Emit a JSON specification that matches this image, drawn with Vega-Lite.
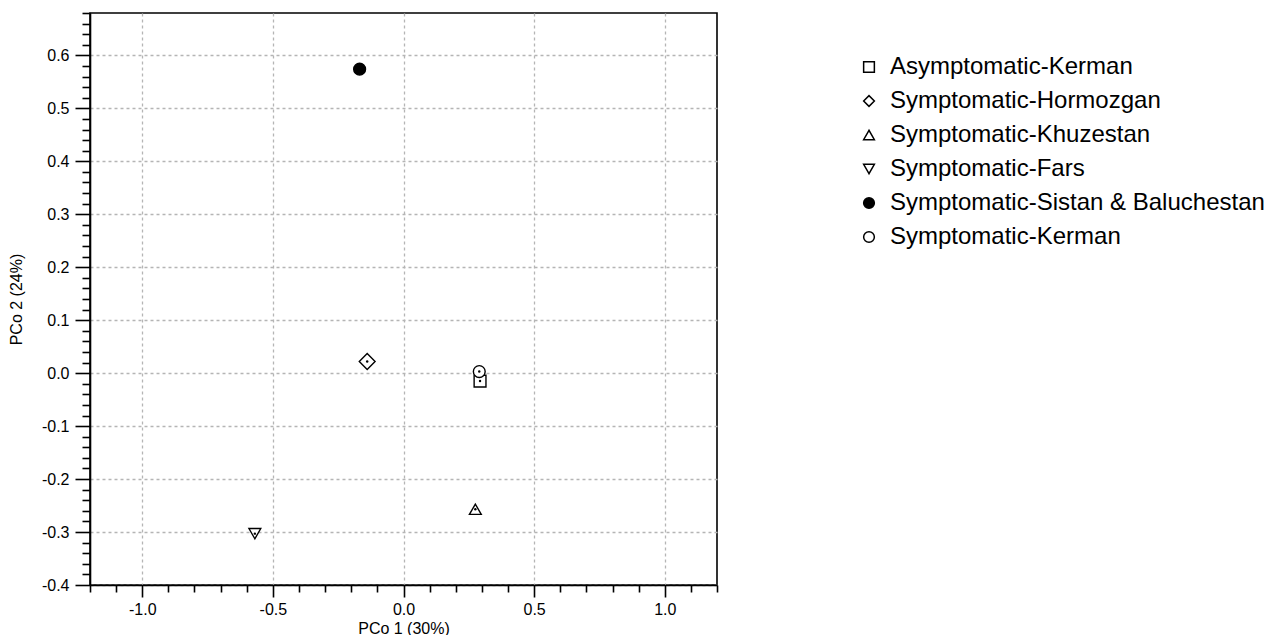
{
  "$schema": "https://vega.github.io/schema/vega-lite/v6.json",
  "autosize": {"type": "none"},
  "padding": {"left": 90, "top": 13, "right": 554, "bottom": 50},
  "width": 627,
  "height": 572,
  "background": "white",
  "config": {
    "font": "Liberation Sans",
    "view": {"stroke": "black", "strokeWidth": 1.6},
    "axis": {"labelFont": "Liberation Sans", "titleFont": "Liberation Sans", "labelColor": "black", "titleColor": "black", "tickColor": "black", "domainColor": "black", "domainWidth": 1.6, "tickWidth": 1.6, "titleFontWeight": "normal"}
  },
  "data": {
    "values": [
      {"group": "Asymptomatic-Kerman", "pco1": 0.293, "pco2": -0.015},
      {"group": "Symptomatic-Hormozgan", "pco1": -0.139, "pco2": 0.022},
      {"group": "Symptomatic-Khuzestan", "pco1": 0.275, "pco2": -0.257},
      {"group": "Symptomatic-Fars", "pco1": -0.569, "pco2": -0.303},
      {"group": "Symptomatic-Sistan & Baluchestan", "pco1": -0.168, "pco2": 0.574},
      {"group": "Symptomatic-Kerman", "pco1": 0.29, "pco2": 0.003}
    ]
  },
  "resolve": {"axis": {"x": "independent", "y": "independent"}},
  "layer": [
    {
      "mark": {"type": "point", "filled": false, "stroke": "black", "strokeWidth": 1.4, "opacity": 1},
      "encoding": {
        "x": {
          "field": "pco1", "type": "quantitative",
          "scale": {"domain": [-1.2, 1.2], "nice": false, "zero": false},
          "axis": {
            "orient": "bottom",
            "values": [-1, -0.5, 0, 0.5, 1],
            "format": ".1f",
            "labelExpr": "replace(datum.label, '\u2212', '-')",
            "tickSize": 12,
            "labelFontSize": 16,
            "labelPadding": 4,
            "grid": true,
            "gridColor": "#b5b5b5",
            "gridDash": [3, 3],
            "gridWidth": 1.3,
            "title": "PCo 1 (30%)",
            "titleFontSize": 16,
            "titlePadding": 3
          }
        },
        "y": {
          "field": "pco2", "type": "quantitative",
          "scale": {"domain": [-0.4, 0.68], "nice": false, "zero": false},
          "axis": {
            "orient": "left",
            "values": [-0.4, -0.3, -0.2, -0.1, 0, 0.1, 0.2, 0.3, 0.4, 0.5, 0.6],
            "format": ".1f",
            "labelExpr": "replace(datum.label, '\u2212', '-')",
            "tickSize": 15,
            "labelFontSize": 16,
            "labelPadding": 6,
            "grid": true,
            "gridColor": "#b5b5b5",
            "gridDash": [3, 3],
            "gridWidth": 1.3,
            "title": "PCo 2 (24%)",
            "titleFontSize": 16,
            "titlePadding": 17
          }
        },
        "size": {
          "condition": {"test": "datum.group === 'Symptomatic-Hormozgan'", "value": 250},
          "value": 140
        },
        "shape": {
          "field": "group", "type": "nominal",
          "scale": {
            "domain": ["Asymptomatic-Kerman", "Symptomatic-Hormozgan", "Symptomatic-Khuzestan", "Symptomatic-Fars", "Symptomatic-Sistan & Baluchestan", "Symptomatic-Kerman"],
            "range": ["square", "diamond", "triangle-up", "triangle-down", "circle", "circle"]
          },
          "legend": {
            "title": null,
            "orient": "none",
            "legendX": 767,
            "legendY": 42,
            "labelFontSize": 24,
            "labelFont": "Liberation Sans",
            "labelColor": "black",
            "labelLimit": 500,
            "symbolSize": 115,
            "rowPadding": 10,
            "labelOffset": 9,
            "encode": {
              "symbols": {
                "update": {
                  "stroke": {"value": "black"},
                  "strokeWidth": {"value": 1.3},
                  "size": [
                    {"test": "datum.value === 'Symptomatic-Hormozgan'", "value": 210},
                    {"value": 115}
                  ]
                }
              }
            }
          }
        },
        "fill": {
          "field": "group", "type": "nominal",
          "scale": {
            "domain": ["Asymptomatic-Kerman", "Symptomatic-Hormozgan", "Symptomatic-Khuzestan", "Symptomatic-Fars", "Symptomatic-Sistan & Baluchestan", "Symptomatic-Kerman"],
            "range": ["white", "white", "white", "white", "black", "white"]
          },
          "legend": {
            "title": null,
            "orient": "none",
            "legendX": 767,
            "legendY": 42,
            "labelFontSize": 24,
            "labelFont": "Liberation Sans",
            "labelColor": "black",
            "labelLimit": 500,
            "symbolSize": 115,
            "rowPadding": 10,
            "labelOffset": 9,
            "encode": {
              "symbols": {
                "update": {
                  "stroke": {"value": "black"},
                  "strokeWidth": {"value": 1.3},
                  "size": [
                    {"test": "datum.value === 'Symptomatic-Hormozgan'", "value": 210},
                    {"value": 115}
                  ]
                }
              }
            }
          }
        }
      }
    },
    {
      "transform": [{"filter": "datum.group !== 'Symptomatic-Sistan & Baluchestan'"}],
      "mark": {"type": "point", "filled": true, "color": "black", "size": 6, "opacity": 1},
      "encoding": {
        "x": {
          "field": "pco1", "type": "quantitative",
          "axis": {
            "orient": "bottom",
            "values": [-1.2, -1.1, -0.9, -0.8, -0.7, -0.6, -0.4, -0.3, -0.2, -0.1, 0.1, 0.2, 0.3, 0.4, 0.6, 0.7, 0.8, 0.9, 1.1, 1.2],
            "tickSize": 7,
            "labels": false,
            "grid": false,
            "domain": false,
            "title": null
          }
        },
        "y": {
          "field": "pco2", "type": "quantitative",
          "axis": {
            "orient": "left",
            "values": [-0.38, -0.36, -0.34, -0.32, -0.28, -0.26, -0.24, -0.22, -0.18, -0.16, -0.14, -0.12, -0.08, -0.06, -0.04, -0.02, 0.02, 0.04, 0.06, 0.08, 0.12, 0.14, 0.16, 0.18, 0.22, 0.24, 0.26, 0.28, 0.32, 0.34, 0.36, 0.38, 0.42, 0.44, 0.46, 0.48, 0.52, 0.54, 0.56, 0.58, 0.62, 0.64, 0.66, 0.68],
            "tickSize": 8,
            "labels": false,
            "grid": false,
            "domain": false,
            "title": null
          }
        }
      }
    }
  ]
}
